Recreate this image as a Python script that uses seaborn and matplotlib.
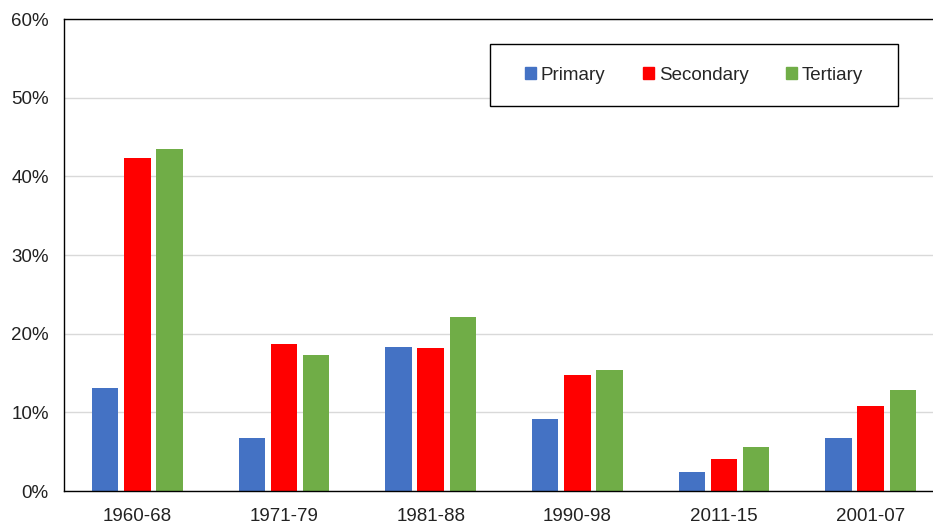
import pandas as pd
import seaborn as sns
import matplotlib.pyplot as plt
from matplotlib.ticker import PercentFormatter
from matplotlib.patches import Rectangle

# Data (share, 0-1)
periods = ['1960-68', '1971-79', '1981-88', '1990-98', '2011-15', '2001-07']
primary = [0.131, 0.067, 0.183, 0.092, 0.024, 0.067]
secondary = [0.423, 0.187, 0.182, 0.147, 0.041, 0.108]
tertiary = [0.435, 0.173, 0.221, 0.154, 0.056, 0.128]
levels = ['Primary', 'Secondary', 'Tertiary']
colors = {'Primary': '#4472C4', 'Secondary': '#FF0000', 'Tertiary': '#70AD47'}

# Long format for seaborn
df = pd.DataFrame({'Period': periods, 'Primary': primary,
                   'Secondary': secondary, 'Tertiary': tertiary})
df = df.melt(id_vars='Period', var_name='Level', value_name='Share')

sns.set_style('white')
plt.rcParams['font.family'] = ['Liberation Sans', 'DejaVu Sans']

fig = plt.figure(figsize=(9.33, 5.24), dpi=100)
ax = fig.add_axes([64 / 933, 33 / 524, 880 / 933, 472 / 524])

# Gridlines behind bars
ax.set_axisbelow(True)
ax.yaxis.grid(True, color='#d9d9d9', linewidth=1)

sns.barplot(data=df, x='Period', y='Share', hue='Level', order=periods,
            hue_order=levels, palette=colors, width=0.66, gap=0.18,
            saturation=1, linewidth=0, errorbar=None, ax=ax, legend=False)

ax.set_ylim(0, 0.6)
ax.set_xlim(-0.5, 5.5)
ax.yaxis.set_major_formatter(PercentFormatter(1, decimals=0))
ax.set_yticks([0, 0.1, 0.2, 0.3, 0.4, 0.5, 0.6])
ax.set_xlabel('')
ax.set_ylabel('')
ax.tick_params(axis='y', length=0, pad=11, labelsize=13.5, colors='#222222')
ax.tick_params(axis='x', length=0, pad=12, labelsize=13.5, colors='#222222')
for s in ax.spines.values():
    s.set_color('black')
    s.set_linewidth(1)

# Legend in a framed box
handles = [plt.Rectangle((0, 0), 1, 1, color=colors[l]) for l in levels]
leg = fig.legend(handles, levels, loc='center', ncol=3,
                 bbox_to_anchor=(694 / 933, 1 - 75 / 524), frameon=False,
                 fontsize=13.5, handlelength=0.6, handleheight=0.6,
                 handletextpad=0.25, columnspacing=2.0)
fig.add_artist(Rectangle((490 / 933, 1 - 106 / 524), 408 / 933, 62 / 524,
                         transform=fig.transFigure, fill=True,
                         facecolor='white', edgecolor='black', linewidth=1,
                         zorder=leg.get_zorder() - 0.1))

plt.savefig('out.png', dpi=100)
plt.close()
